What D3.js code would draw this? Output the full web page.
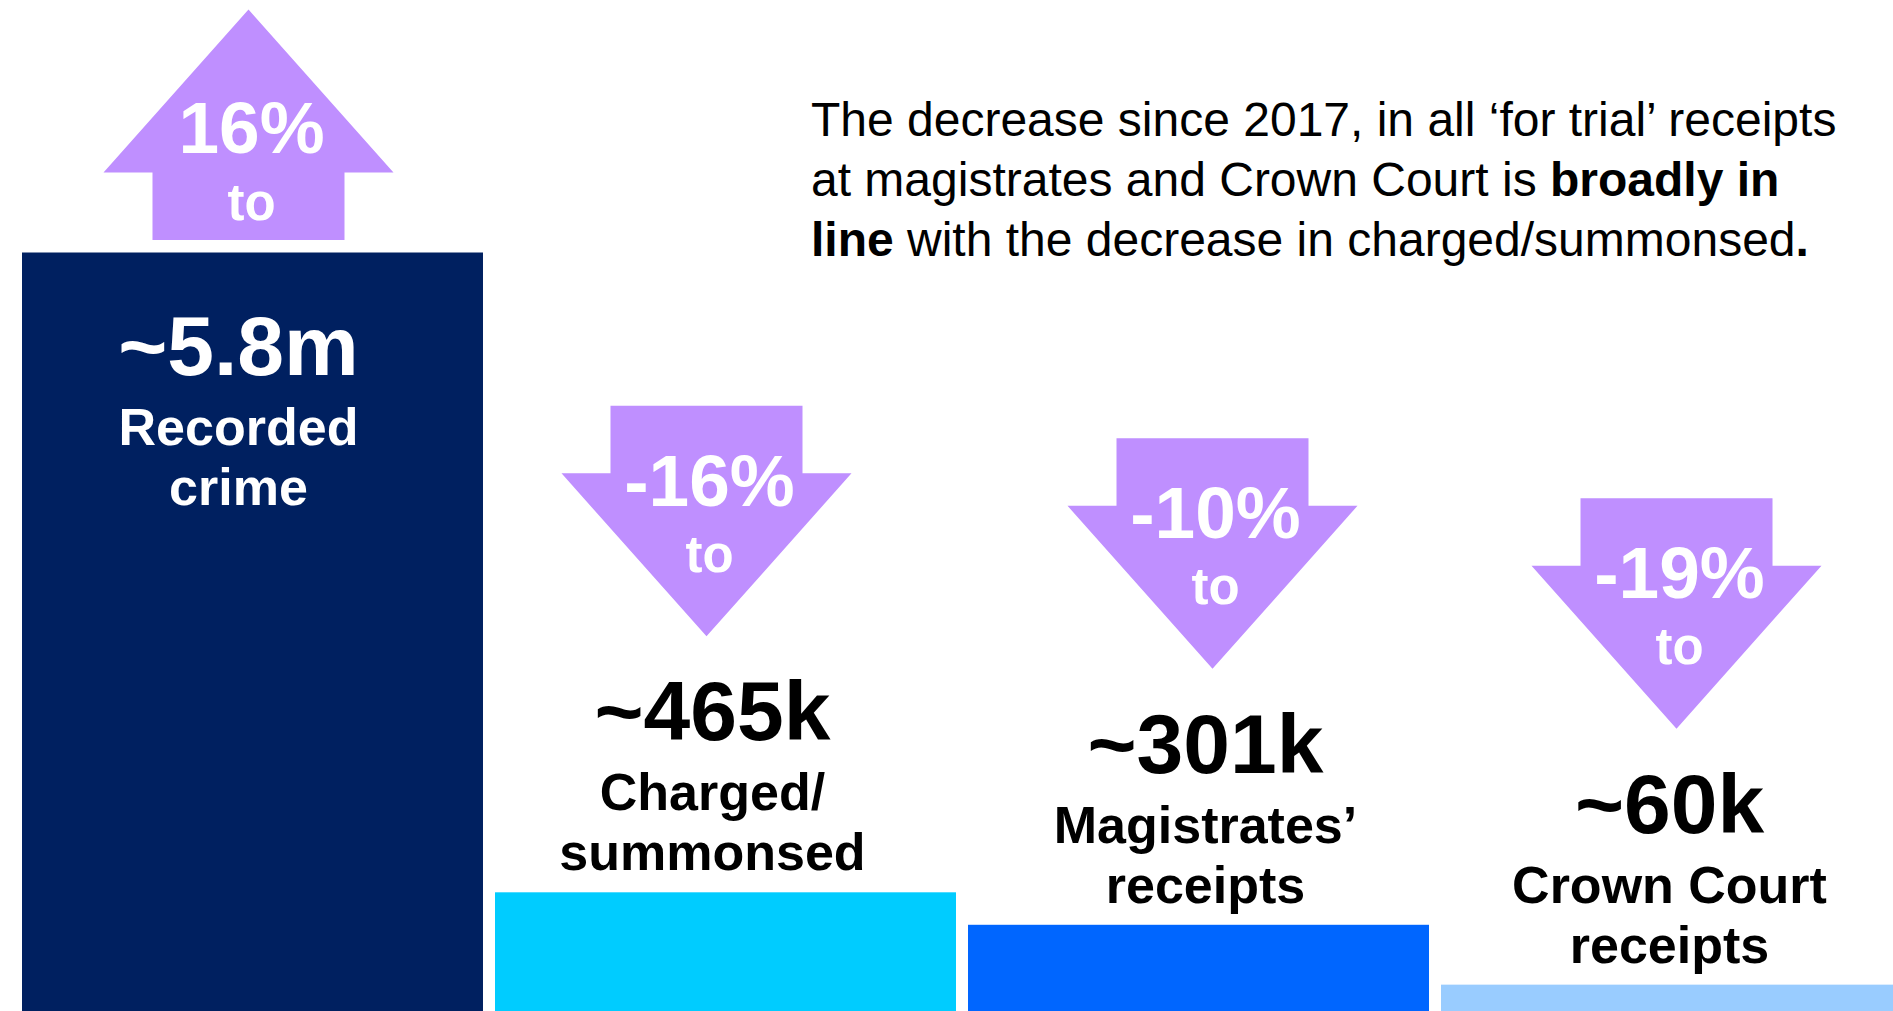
<!DOCTYPE html>
<html>
<head>
<meta charset="utf-8">
<script src="https://cdn.jsdelivr.net/npm/d3@7"></script>
<style>
  body { margin: 0; background: #fff; }
  text { font-family: "Liberation Sans", Arial, sans-serif; }
</style>
</head>
<body>
<div id="chart"></div>
<script>
const categories = ["Recorded crime", "Charged/summonsed", "Magistrates’ receipts", "Crown Court receipts"];
const values = [5800000, 465000, 301000, 60000];
const valueLabels = ["~5.8m", "~465k", "~301k", "~60k"];
const nameLines = [["Recorded", "crime"], ["Charged/", "summonsed"], ["Magistrates’", "receipts"], ["Crown Court", "receipts"]];
const changes = [16, -16, -10, -19];

const barColors = ["#002060", "#00CCFF", "#0066FF", "#99CCFF"];
const arrowColor = "#BF8FFF";

const svgWidth = 1893;
const svgHeight = 1011;

// small hand nudges so arrows / labels sit like the original slide
const arrowShift = [-4, -19, 14, 5];
const labelShift = [-14, -13, 7, -2];

const svg = d3.select("#chart")
  .append("svg")
  .attr("width", svgWidth)
  .attr("height", svgHeight);

const data = categories.map((c, i) => ({
  cat: c, value: values[i], label: valueLabels[i], lines: nameLines[i], change: changes[i], i: i
}));

const x = d3.scaleBand()
  .domain(categories)
  .range([22, 1902])
  .paddingInner(0.0254);

// bars in the slide are drawn on a compressed (power) scale
const y = d3.scalePow()
  .exponent(0.735)
  .domain([0, 5800000])
  .range([svgHeight, 252.5]);

svg.selectAll("rect.bar")
  .data(data)
  .enter()
  .append("rect")
  .attr("class", "bar")
  .attr("x", d => x(d.cat))
  .attr("y", d => y(d.value))
  .attr("width", x.bandwidth())
  .attr("height", d => svgHeight - y(d.value))
  .attr("fill", (d, i) => barColors[i]);

// arrows
const headW = 290, shaftW = 192, headH = 163, shaftH = 67.5;

function arrowPath(cx, tipY, up) {
  const s = up ? 1 : -1;
  const baseY = tipY + s * headH;
  const endY = baseY + s * shaftH;
  return `M${cx},${tipY} L${cx + headW / 2},${baseY} L${cx + shaftW / 2},${baseY} ` +
    `L${cx + shaftW / 2},${endY} L${cx - shaftW / 2},${endY} L${cx - shaftW / 2},${baseY} ` +
    `L${cx - headW / 2},${baseY} Z`;
}

const arrows = svg.selectAll("g.arrow")
  .data(data)
  .enter()
  .append("g")
  .attr("class", "arrow");

arrows.each(function(d) {
  const g = d3.select(this);
  const cx = x(d.cat) + x.bandwidth() / 2 + arrowShift[d.i];
  const up = d.change > 0;
  let tipY, topY;
  if (up) {
    const bottom = y(d.value) - 12.5;
    tipY = bottom - headH - shaftH;
    topY = tipY;
  } else {
    tipY = y(d.value) - 256;
    topY = tipY - headH - shaftH;
  }
  g.append("path")
    .attr("d", arrowPath(cx, tipY, up))
    .attr("fill", arrowColor);

  const pctY = up ? topY + 143 : topY + 100;
  const toY = up ? topY + 210.5 : topY + 166;
  g.append("text")
    .attr("x", cx + 3)
    .attr("y", pctY)
    .attr("text-anchor", "middle")
    .attr("fill", "#fff")
    .attr("font-weight", "bold")
    .attr("font-size", 73)
    .text(`${d.change}%`);
  g.append("text")
    .attr("x", cx + 3)
    .attr("y", toY)
    .attr("text-anchor", "middle")
    .attr("fill", "#fff")
    .attr("font-weight", "bold")
    .attr("font-size", 51)
    .text("to");
});

// value + name labels
const labels = svg.selectAll("g.label")
  .data(data)
  .enter()
  .append("g")
  .attr("class", "label");

labels.each(function(d) {
  const g = d3.select(this);
  const cx = x(d.cat) + x.bandwidth() / 2 + labelShift[d.i];
  const inside = d.i === 0;
  const top = y(d.value);
  const valY = inside ? top + 122.5 : top - 152;
  const col = inside ? "#fff" : "#000";
  g.append("text")
    .attr("x", cx)
    .attr("y", valY)
    .attr("text-anchor", "middle")
    .attr("fill", col)
    .attr("font-weight", "bold")
    .attr("font-size", 84)
    .text(d.label);
  d.lines.forEach((ln, k) => {
    g.append("text")
      .attr("x", cx)
      .attr("y", valY + 70 + k * 60)
      .attr("text-anchor", "middle")
      .attr("fill", col)
      .attr("font-weight", "bold")
      .attr("font-size", 52)
      .text(ln);
  });
});

// note text
const note = [
  [["The decrease since 2017, in all ‘for trial’ receipts", false]],
  [["at magistrates and Crown Court is ", false], ["broadly in", true]],
  [["line", true], [" with the decrease in charged/summonsed", false], [".", true]]
];

const noteText = svg.append("text")
  .attr("x", 811)
  .attr("font-size", 48)
  .attr("fill", "#000");

note.forEach((line, k) => {
  line.forEach((seg, j) => {
    const t = noteText.append("tspan")
      .attr("font-weight", seg[1] ? "bold" : "normal")
      .style("white-space", "pre")
      .text(seg[0]);
    if (j === 0) t.attr("x", 811).attr("y", 136 + k * 60);
  });
});
</script>
</body>
</html>
